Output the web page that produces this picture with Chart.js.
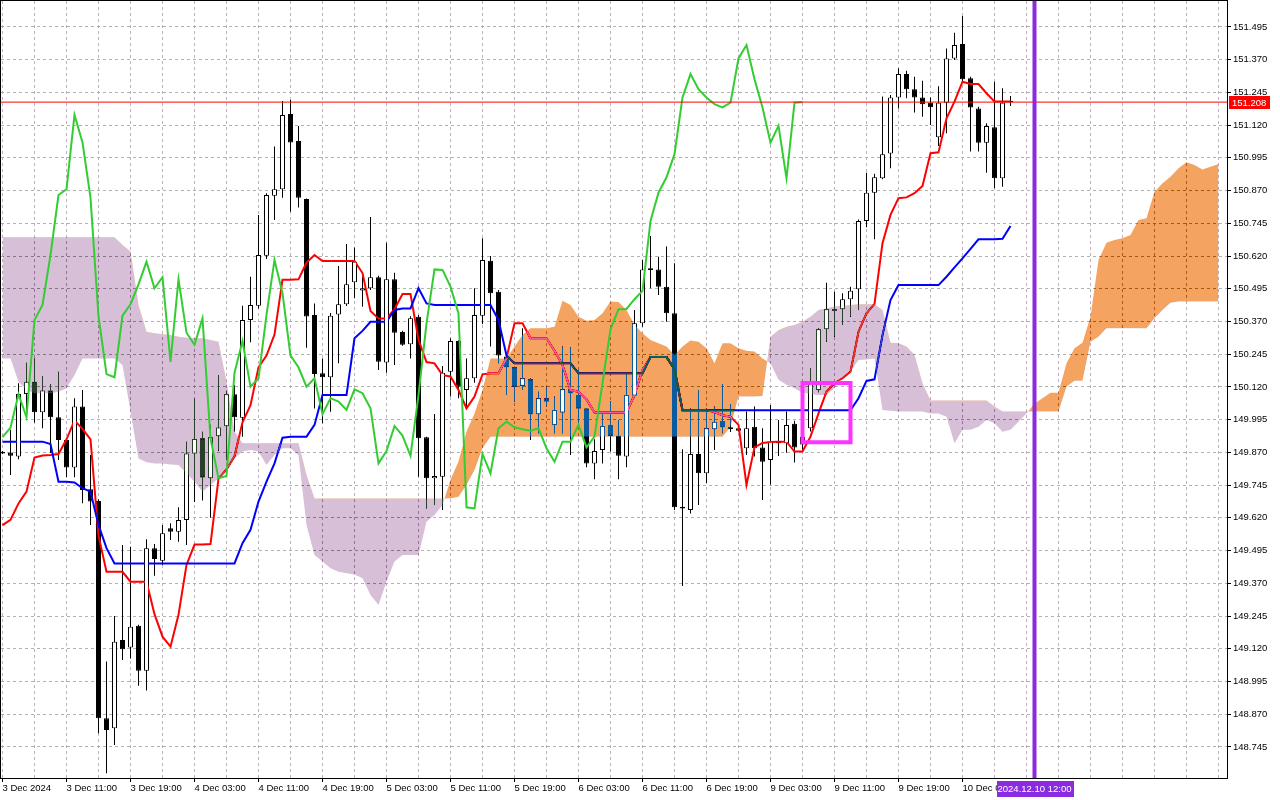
<!DOCTYPE html>
<html>
<head>
  <title>H1 Ichimoku</title>
  <script src="https://cdn.jsdelivr.net/npm/chart.js"></script>
  <style>
    html, body {
      margin: 0;
      padding: 0;
      background: #ffffff;
    }

    .wrap {
      width: 1280px;
      height: 800px;
    }
  </style>
</head>
<body>
  <div class="wrap"><canvas id="ichimoku"></canvas></div>

  <script>
    // H1 bars, bar 0 = 3 Dec 03:00 ... bar 126 = 10 Dec 08:00
    const opens = [
      149.866, 149.870, 149.854, 150.093, 150.140, 150.023, 150.106, 150.004, 149.917, 149.812,
      150.045, 149.729, 149.684, 148.854, 148.816, 149.153, 149.125, 149.208, 149.036, 149.504,
      149.456, 149.580, 149.567, 149.612, 149.866, 149.924, 149.771, 149.932, 149.970, 150.092,
      150.002, 150.376, 150.430, 150.621, 150.850, 150.875, 151.163, 151.059, 150.838, 150.395,
      150.172, 150.157, 150.397, 150.436, 150.520, 150.488, 150.497, 150.539, 150.213, 150.531,
      150.330, 150.283, 150.388, 149.928, 149.771, 149.777, 150.178, 150.295, 150.108, 150.153,
      150.392, 150.602, 150.484, 150.236, 150.195, 150.125, 150.149, 150.016, 150.077, 149.975,
      150.022, 150.111, 150.089, 150.038, 149.828, 149.879, 149.975, 149.934, 149.854, 150.087,
      150.363, 150.573, 150.569, 150.503, 150.401, 149.662, 149.650, 149.864, 149.790, 149.958,
      149.990, 149.966, 149.962, 149.886, 149.968, 149.889, 149.841, 149.905, 149.905, 149.979,
      149.900, 149.962, 150.108, 150.340, 150.411, 150.417, 150.455, 150.493, 150.754, 150.862,
      150.917, 151.012, 151.226, 151.315, 151.257, 151.226, 151.206, 151.074, 151.206, 151.375,
      151.430, 151.299, 151.184, 151.053, 151.112, 150.917, 151.208
    ];
    const highs = [
      149.875, 149.956, 150.134, 150.212, 150.229, 150.162, 150.131, 150.178, 149.925, 150.077,
      150.108, 149.860, 149.691, 149.071, 149.245, 149.516, 149.510, 149.212, 149.538, 149.520,
      149.593, 149.599, 149.660, 149.911, 150.075, 149.949, 149.976, 150.166, 150.105, 150.127,
      150.430, 150.541, 150.777, 150.860, 151.038, 151.212, 151.216, 151.117, 150.840, 150.439,
      150.229, 150.402, 150.582, 150.666, 150.653, 150.541, 150.769, 150.545, 150.671, 150.556,
      150.335, 150.390, 150.395, 149.930, 150.017, 150.200, 150.306, 150.298, 150.229, 150.497,
      150.688, 150.620, 150.490, 150.249, 150.197, 150.344, 150.152, 150.102, 150.121, 150.083,
      150.274, 150.271, 150.185, 150.040, 149.920, 150.017, 150.064, 149.994, 150.172, 150.414,
      150.605, 150.697, 150.617, 150.656, 150.592, 149.882, 150.038, 150.108, 150.038, 150.045,
      150.131, 150.055, 149.970, 150.026, 150.045, 149.962, 150.051, 149.994, 150.026, 149.991,
      149.960, 150.190, 150.345, 150.518, 150.484, 150.478, 150.503, 150.760, 150.938, 150.934,
      151.229, 151.235, 151.337, 151.328, 151.305, 151.290, 151.226, 151.269, 151.413, 151.473,
      151.537, 151.305, 151.190, 151.127, 151.286, 151.261, 151.231
    ];
    const lows = [
      149.864, 149.784, 149.844, 150.006, 149.984, 149.962, 149.868, 149.841, 149.776, 149.775,
      149.676, 149.593, 148.797, 148.644, 148.752, 149.077, 149.083, 148.979, 148.960, 149.399,
      149.440, 149.535, 149.529, 149.516, 149.680, 149.686, 149.620, 149.876, 149.840, 149.950,
      149.930, 150.291, 150.420, 150.609, 150.758, 150.843, 150.789, 150.805, 150.270, 150.038,
      149.981, 150.025, 150.210, 150.429, 150.459, 150.426, 150.490, 150.185, 150.174, 150.204,
      150.277, 150.229, 149.777, 149.656, 149.669, 149.650, 150.083, 150.077, 150.038, 150.136,
      150.360, 150.274, 150.210, 150.089, 150.064, 150.108, 149.917, 149.943, 150.045, 149.943,
      149.943, 149.860, 149.968, 149.813, 149.767, 149.828, 149.873, 149.767, 149.813, 150.080,
      150.350, 150.497, 150.471, 150.369, 149.650, 149.360, 149.637, 149.669, 149.753, 149.879,
      149.943, 149.948, 149.950, 149.860, 149.854, 149.688, 149.746, 149.856, 149.869, 149.831,
      149.880, 149.950, 150.100, 150.293, 150.312, 150.357, 150.388, 150.414, 150.730, 150.684,
      150.913, 150.955, 151.184, 151.223, 151.168, 151.152, 151.121, 151.040, 151.089, 151.369,
      151.289, 151.019, 151.019, 150.938, 150.879, 150.885, 151.193
    ];
    const closes = [
      149.872, 149.857, 150.093, 150.140, 150.023, 150.106, 150.004, 149.917, 149.812, 150.045,
      149.726, 149.682, 148.854, 148.810, 149.147, 149.118, 149.204, 149.036, 149.504, 149.463,
      149.561, 149.567, 149.612, 149.866, 149.921, 149.774, 149.928, 149.965, 150.092, 150.004,
      150.376, 150.433, 150.624, 150.853, 150.875, 151.159, 151.054, 150.843, 150.389, 150.169,
      150.157, 150.392, 150.436, 150.512, 150.598, 150.497, 150.539, 150.216, 150.531, 150.327,
      150.281, 150.382, 149.924, 149.771, 149.780, 150.174, 150.295, 150.121, 150.153, 150.395,
      150.605, 150.478, 150.240, 150.195, 150.121, 150.153, 150.016, 150.077, 150.064, 150.032,
      150.111, 150.096, 150.038, 149.828, 149.875, 149.971, 149.934, 149.857, 150.089, 150.363,
      150.569, 150.567, 150.503, 150.401, 149.660, 149.656, 149.864, 149.790, 149.962, 149.987,
      149.966, 149.958, 149.953, 149.962, 149.886, 149.834, 149.911, 149.911, 149.975, 149.889,
      149.930, 150.135, 150.340, 150.417, 150.418, 150.455, 150.487, 150.754, 150.862, 150.921,
      151.009, 151.226, 151.315, 151.257, 151.226, 151.200, 151.188, 151.206, 151.375, 151.426,
      151.295, 151.187, 151.053, 151.117, 150.917, 151.206, 151.208
    ];

    // Tenkan-sen (red) and Kijun-sen (blue), one value per bar
    const tenkan = [
      149.592, 149.612, 149.675, 149.720, 149.850, 149.858, 149.860, 149.864, 149.920, 149.992,
      149.960, 149.920, 149.552, 149.414, 149.414, 149.414, 149.376, 149.376, 149.376, 149.252,
      149.166, 149.128, 149.250, 149.440, 149.518, 149.518, 149.520, 149.770, 149.805, 149.855,
      149.985, 150.050, 150.195, 150.240, 150.320, 150.529, 150.529, 150.531, 150.595, 150.624,
      150.601, 150.601, 150.601, 150.601, 150.601, 150.555, 150.410, 150.381, 150.381, 150.417,
      150.475, 150.475, 150.300, 150.215, 150.210, 150.165, 150.160, 150.108, 150.038, 150.083,
      150.168, 150.172, 150.172, 150.230, 150.363, 150.363, 150.306, 150.306, 150.306, 150.258,
      150.204, 150.108, 150.102, 150.072, 150.022, 150.022, 150.022, 150.022, 150.022, 150.090,
      150.185, 150.234, 150.234, 150.234, 150.188, 150.031, 150.031, 150.031, 150.031, 150.024,
      150.012, 150.006, 149.975, 149.746, 149.889, 149.906, 149.910, 149.911, 149.911, 149.873,
      149.873, 149.930, 150.019, 150.102, 150.134, 150.153, 150.178, 150.331, 150.401, 150.437,
      150.669, 150.777, 150.841, 150.844, 150.860, 150.888, 151.013, 151.016, 151.146, 151.210,
      151.286, 151.277, 151.277, 151.242, 151.210, 151.210, 151.210
    ];
    const kijun = [
      149.911, 149.911, 149.911, 149.911, 149.911, 149.911, 149.902, 149.758, 149.758, 149.755,
      149.733, 149.720, 149.593, 149.504, 149.446, 149.446, 149.446, 149.446, 149.446, 149.446,
      149.446, 149.446, 149.446, 149.446, 149.446, 149.446, 149.446, 149.446, 149.446, 149.446,
      149.523, 149.574, 149.682, 149.758, 149.828, 149.926, 149.930, 149.930, 149.930, 149.975,
      150.089, 150.089, 150.089, 150.089, 150.306, 150.334, 150.369, 150.369, 150.369, 150.414,
      150.420, 150.420, 150.497, 150.439, 150.433, 150.433, 150.433, 150.433, 150.433, 150.433,
      150.433, 150.433, 150.376, 150.240, 150.210, 150.210, 150.210, 150.210, 150.210, 150.210,
      150.210, 150.210, 150.172, 150.172, 150.172, 150.172, 150.172, 150.172, 150.172, 150.172,
      150.172, 150.234, 150.234, 150.234, 150.188, 150.031, 150.031, 150.031, 150.031, 150.031,
      150.031, 150.031, 150.031, 150.031, 150.031, 150.031, 150.031, 150.031, 150.031, 150.031,
      150.031, 150.031, 150.031, 150.031, 150.031, 150.031, 150.031, 150.077, 150.143, 150.149,
      150.318, 150.452, 150.509, 150.509, 150.509, 150.509, 150.509, 150.509, 150.541, 150.577,
      150.611, 150.647, 150.684, 150.684, 150.684, 150.686, 150.735
    ];

    // Chikou span (green), plotted 26 bars back: bars 0..100
    const chikou = [
      149.928, 149.965, 150.092, 150.004, 150.376, 150.433, 150.624, 150.853, 150.875, 151.159,
      151.054, 150.843, 150.389, 150.169, 150.157, 150.392, 150.436, 150.512, 150.598, 150.497,
      150.539, 150.216, 150.531, 150.327, 150.281, 150.382, 149.924, 149.771, 149.780, 150.174,
      150.295, 150.121, 150.153, 150.395, 150.605, 150.478, 150.240, 150.195, 150.121, 150.153,
      150.016, 150.077, 150.064, 150.032, 150.111, 150.096, 150.038, 149.828, 149.875, 149.971,
      149.934, 149.857, 150.089, 150.363, 150.569, 150.567, 150.503, 150.401, 149.660, 149.656,
      149.864, 149.790, 149.962, 149.987, 149.966, 149.958, 149.953, 149.962, 149.886, 149.834,
      149.911, 149.911, 149.975, 149.889, 149.930, 150.135, 150.340, 150.417, 150.418, 150.455,
      150.487, 150.754, 150.862, 150.921, 151.009, 151.226, 151.315, 151.257, 151.226, 151.200,
      151.188, 151.206, 151.375, 151.426, 151.295, 151.187, 151.053, 151.117, 150.917, 151.206,
      151.208
    ];

    // Senkou spans A and B, bars 0..152 (26 bars into the future)
    const senkouA = [
      150.229, 150.229, 150.140, 150.108, 150.096, 150.096, 150.096, 150.102, 150.115, 150.166,
      150.229, 150.229, 150.229, 150.229, 150.229, 150.204, 150.026, 149.847, 149.832, 149.828,
      149.828, 149.824, 149.822, 149.790, 149.758, 149.720, 149.745, 149.771, 149.796, 149.847,
      149.873, 149.879, 149.873, 149.822, 149.860, 149.886, 149.886, 149.860, 149.593, 149.478,
      149.453, 149.427, 149.414, 149.408, 149.404, 149.389, 149.325, 149.287, 149.376, 149.453,
      149.478, 149.478, 149.478, 149.605, 149.631, 149.669, 149.765, 149.835, 149.949, 150.019,
      150.108, 150.229, 150.229, 150.229, 150.274, 150.318, 150.344, 150.344, 150.344, 150.350,
      150.449, 150.433, 150.388, 150.373, 150.376, 150.401, 150.446, 150.444, 150.414, 150.357,
      150.325, 150.299, 150.287, 150.274, 150.242, 150.274, 150.297, 150.293, 150.268, 150.210,
      150.287, 150.287, 150.268, 150.258, 150.255, 150.229, 150.210, 150.147, 150.128, 150.115,
      150.098, 150.093, 150.089, 150.089, 150.115, 150.159, 150.178, 150.223, 150.225, 150.229,
      150.032, 150.029, 150.026, 150.026, 150.026, 150.026, 150.019, 150.019, 150.006, 149.905,
      149.956, 149.956, 149.968, 149.994, 149.981, 149.949, 149.956, 149.987, 150.019, 150.057,
      150.077, 150.098, 150.098, 150.210, 150.268, 150.289, 150.388, 150.605, 150.671, 150.681,
      150.688, 150.700, 150.758, 150.764, 150.866, 150.898, 150.923, 150.955, 150.978, 150.968,
      150.951, 150.961, 150.972
    ];
    const senkouB = [
      150.692, 150.692, 150.692, 150.692, 150.692, 150.692, 150.692, 150.692, 150.692, 150.692,
      150.692, 150.692, 150.692, 150.692, 150.692, 150.662, 150.637, 150.433, 150.331, 150.325,
      150.321, 150.318, 150.312, 150.308, 150.306, 150.306, 150.299, 150.293, 150.140, 149.949,
      149.905, 149.905, 149.905, 149.905, 149.905, 149.905, 149.905, 149.905, 149.784, 149.694,
      149.694, 149.694, 149.694, 149.694, 149.694, 149.694, 149.694, 149.694, 149.694, 149.694,
      149.694, 149.694, 149.694, 149.694, 149.694, 149.694, 149.694, 149.701, 149.745, 149.803,
      149.886, 149.930, 149.930, 149.930, 149.930, 149.930, 149.930, 149.930, 149.930, 149.930,
      149.930, 149.930, 149.930, 149.930, 149.930, 149.930, 149.930, 149.930, 149.930, 149.930,
      149.930, 149.930, 149.930, 149.930, 149.930, 149.930, 149.930, 149.930, 149.930, 149.930,
      149.930, 149.968, 150.083, 150.083, 150.083, 150.085, 150.312, 150.337, 150.350, 150.357,
      150.369, 150.388, 150.414, 150.420, 150.427, 150.429, 150.433, 150.436, 150.436, 150.436,
      150.414, 150.289, 150.287, 150.274, 150.242, 150.134, 150.068, 150.068, 150.068, 150.068,
      150.068, 150.068, 150.068, 150.068, 150.045, 150.026, 150.026, 150.026, 150.026, 150.026,
      150.026, 150.026, 150.026, 150.121, 150.144, 150.144, 150.293, 150.312, 150.344, 150.344,
      150.344, 150.344, 150.344, 150.344, 150.382, 150.414, 150.442, 150.446, 150.446, 150.446,
      150.446, 150.446, 150.446
    ];

    // axis labels (x labels every 8 bars from bar 0)
    const xTickLabels = [
      '3 Dec 2024', '3 Dec 11:00', '3 Dec 19:00', '4 Dec 03:00', '4 Dec 11:00', '4 Dec 19:00',
      '5 Dec 03:00', '5 Dec 11:00', '5 Dec 19:00', '6 Dec 03:00', '6 Dec 11:00', '6 Dec 19:00',
      '9 Dec 03:00', '9 Dec 11:00', '9 Dec 19:00', '10 Dec 03:00'
    ];
    const yTickLabels = [
      '148.745', '148.870', '148.995', '149.120', '149.245', '149.370', '149.495', '149.620',
      '149.745', '149.870', '149.995', '150.120', '150.245', '150.370', '150.495', '150.620',
      '150.745', '150.870', '150.995', '151.120', '151.245', '151.370', '151.495'
    ];

    const bidPrice = 151.208;
    const cursorBar = 129;
    const cursorLabel = '2024.12.10 12:00';
    const rectBars = [100, 106];
    const rectPrices = [149.909, 150.135];

    const FONT_FAMILY = "'Liberation Sans', Arial, sans-serif";
    const FONT_SIZE = 9.5;
    const BARS_PER_LABEL = 8;

    const xy = (arr) => arr.map((v, i) => ({ x: i, y: v }));

    const wickData = highs.map((h, i) => ({ x: i, y: [lows[i], h] }));
    const bodyData = opens.map((o, i) => ({ x: i, y: [o, closes[i]] }));
    const bodyColors = opens.map((o, i) => (closes[i] >= o ? '#ffffff' : '#000000'));
    const bullData = bodyData.filter((d, i) => closes[i] >= opens[i]);

    const rectData = [
      { x: rectBars[0], y: rectPrices[0] },
      { x: rectBars[0], y: rectPrices[1] },
      { x: rectBars[1], y: rectPrices[1] },
      { x: rectBars[1], y: rectPrices[0] },
      { x: rectBars[0], y: rectPrices[0] },
      { x: rectBars[0], y: rectPrices[1] }
    ];

    // MT4 paints the cloud with XOR; 'difference' with the
    // complement colour gives sandybrown / thistle on white
    const cloudBlend = {
      id: 'cloudBlend',
      beforeDraw(chart) {
        const { ctx, width, height } = chart;
        ctx.save();
        ctx.fillStyle = '#ffffff';
        ctx.fillRect(0, 0, width, height);
        ctx.restore();
      },
      afterDatasetDraw(chart, args) {
        const label = chart.data.datasets[args.index].label;
        if (label === 'Senkou B') chart.ctx.globalCompositeOperation = 'difference';
        if (label === 'Senkou A') chart.ctx.globalCompositeOperation = 'source-over';
      }
    };

    const mtOverlay = {
      id: 'mtOverlay',
      afterDraw(chart) {
        const { ctx, chartArea: a, scales } = chart;
        ctx.save();
        ctx.strokeStyle = '#000000';
        ctx.lineWidth = 1;
        ctx.strokeRect(a.left - 0.5, a.top - 0.5, a.right - a.left + 1, a.bottom - a.top + 1);

        ctx.font = FONT_SIZE + 'px ' + FONT_FAMILY;
        ctx.textBaseline = 'middle';

        const py = Math.round(scales.y.getPixelForValue(bidPrice));
        ctx.fillStyle = '#ff0000';
        ctx.fillRect(a.right + 2, py - 6, 41, 13);
        ctx.fillStyle = '#ffffff';
        ctx.textAlign = 'left';
        ctx.fillText(bidPrice.toFixed(3), a.right + 5, py + 1);

        const cx = scales.x.getPixelForValue(cursorBar);
        ctx.fillStyle = '#8a2be2';
        ctx.fillRect(Math.round(cx - 38), a.bottom + 3, 77, 16);
        ctx.fillStyle = '#ffffff';
        ctx.textAlign = 'center';
        ctx.fillText(cursorLabel, cx, a.bottom + 11.5);
        ctx.restore();
      }
    };

    // keep the plot frame fixed: no extra room for half tick labels
    const noLabelPadding = (scale) => {
      scale.paddingLeft = 0;
      scale.paddingRight = 0;
      scale.paddingTop = 0;
      scale.paddingBottom = 0;
    };

    const barBase = { grouped: false, inflateAmount: 0, borderSkipped: false };
    const lineBase = { type: 'line', pointRadius: 0, tension: 0, fill: false };

    new Chart(document.getElementById('ichimoku'), {
      type: 'bar',
      data: {
        datasets: [
          { ...barBase, label: 'Wicks', data: wickData, barThickness: 1, backgroundColor: '#000000', borderWidth: 0, order: 12 },
          { ...barBase, label: 'Bodies', data: bodyData, barThickness: 5, backgroundColor: bodyColors, borderColor: '#000000', borderWidth: 1, minBarLength: 1, order: 11 },
          { ...lineBase, label: 'Tenkan', data: xy(tenkan), borderColor: '#ff0000', borderWidth: 2, order: 10 },
          { ...lineBase, label: 'Kijun', data: xy(kijun), borderColor: '#0000ff', borderWidth: 2, order: 9 },
          { ...lineBase, label: 'Senkou B', data: xy(senkouB), borderColor: 'rgba(0,0,0,0)', borderWidth: 0, order: 8 },
          {
            ...lineBase, label: 'Senkou A', data: xy(senkouA),
            borderColor: 'rgba(0,0,0,0)', borderWidth: 0, order: 7,
            fill: { target: '-1', above: 'rgb(11,91,159)', below: 'rgb(39,64,39)' }
          },
          { ...barBase, label: 'Bull fill', data: bullData, barThickness: 5, backgroundColor: '#ffffff', borderColor: 'rgba(0,0,0,0)', borderWidth: 1, order: 6 },
          { ...lineBase, label: 'Chikou', data: xy(chikou), borderColor: '#32cd32', borderWidth: 2, order: 5 },
          { ...lineBase, label: 'Bid', data: [{ x: -1, y: bidPrice }, { x: senkouA.length + 1, y: bidPrice }], borderColor: '#ff0000', borderWidth: 1, clip: 0, order: 4 },
          { ...lineBase, label: 'Cursor', data: [{ x: cursorBar, y: 148 }, { x: cursorBar, y: 152 }], borderColor: '#8a2be2', borderWidth: 4, clip: 0, order: 3 },
          { ...lineBase, label: 'Box', data: rectData, borderColor: '#ff33ff', borderWidth: 4, borderJoinStyle: 'miter', clip: 0, order: 2 }
        ]
      },
      options: {
        responsive: true,
        maintainAspectRatio: false,
        devicePixelRatio: 1,
        animation: false,
        events: [],
        layout: { autoPadding: false, padding: { left: 1, top: 1, right: 0, bottom: 0 } },
        plugins: {
          legend: { display: false },
          tooltip: { enabled: false }
        },
        scales: {
          x: {
            type: 'linear',
            position: 'bottom',
            offset: false,
            min: -0.1875,
            max: 153.0625,
            afterFit: (scale) => {
              scale.height = 22;
              noLabelPadding(scale);
            },
            afterBuildTicks: (scale) => {
              const ticks = [];
              for (let b = 0; b < senkouA.length; b += 4) ticks.push({ value: b });
              scale.ticks = ticks;
            },
            border: { display: false, dash: [3, 3] },
            grid: {
              offset: false,
              color: '#c2aec2',
              lineWidth: 1,
              tickLength: 4,
              tickColor: (c) => (c.tick && c.tick.value % BARS_PER_LABEL === 0 && c.tick.value < opens.length ? '#000000' : 'rgba(0,0,0,0)')
            },
            ticks: {
              autoSkip: false,
              maxRotation: 0,
              minRotation: 0,
              align: 'start',
              padding: 1,
              color: '#000000',
              font: { family: FONT_FAMILY, size: FONT_SIZE },
              callback: (v) => (v % BARS_PER_LABEL === 0 ? (xTickLabels[v / BARS_PER_LABEL] || '') : '')
            }
          },
          y: {
            type: 'linear',
            position: 'right',
            min: 148.6262,
            max: 151.5942,
            afterFit: (scale) => {
              scale.width = 53;
              noLabelPadding(scale);
            },
            afterBuildTicks: (scale) => {
              scale.ticks = yTickLabels.map((l) => ({ value: parseFloat(l) }));
            },
            border: { display: false, dash: [3, 3] },
            grid: {
              color: '#a9b6a9',
              lineWidth: 1,
              tickLength: 4,
              tickColor: '#000000'
            },
            ticks: {
              autoSkip: false,
              padding: 2,
              color: '#000000',
              font: { family: FONT_FAMILY, size: FONT_SIZE },
              callback: (v, i) => yTickLabels[i]
            }
          }
        }
      },
      plugins: [cloudBlend, mtOverlay]
    });
  </script>
</body>
</html>
